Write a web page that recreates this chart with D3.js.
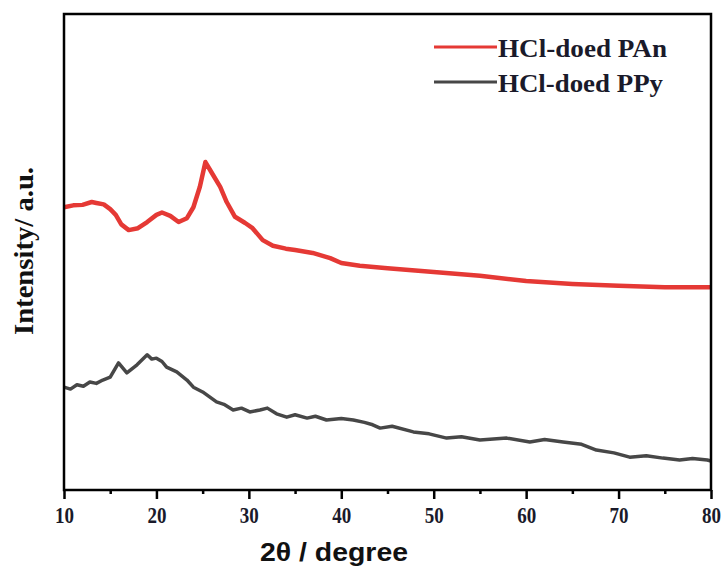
<!DOCTYPE html>
<html>
<head>
<meta charset="utf-8">
<script src="https://cdn.jsdelivr.net/npm/d3@7"></script>
<style>
  body { margin: 0; background: #fff; }
</style>
</head>
<body>
<div class="chart"></div>
<script>
// 2theta (degree) and intensity (a.u., 0-1000 frame scale)
var panAngles = [10, 11, 12, 13, 13.5, 14.3, 15, 15.6, 16.2, 17, 18, 19, 20, 20.6, 21.5, 22.4, 23.3, 24, 24.7, 25.3, 26, 26.9, 27.6, 28.5, 29.6, 30.4, 31.5, 32.6, 34, 35, 36.9, 38.8, 40, 42, 45, 48, 50, 55, 60, 65, 70, 75, 80];
var panValues = [594, 598, 599, 605, 603, 600, 590, 578, 558, 546, 550, 563, 578, 583, 576, 563, 571, 594, 637, 689, 666, 637, 605, 574, 561, 550, 525, 513, 507, 504, 498, 487, 477, 471, 466, 461, 458, 450, 439, 433, 429, 426, 426];

var ppyAngles = [10, 10.7, 11.4, 12.1, 12.8, 13.5, 14.2, 15, 15.9, 16.8, 17.9, 19, 19.5, 20, 20.6, 21.1, 22.2, 23.3, 24, 25, 26.5, 27.3, 28.3, 29.2, 30.1, 31.2, 32, 33, 34.1, 35, 36.3, 37.2, 38.4, 40, 41.3, 42.5, 43.4, 44.2, 45.5, 47.8, 49.5, 51.4, 53, 55, 57.9, 60.4, 62, 64, 66, 67.6, 69.5, 71.2, 73, 74.8, 76.6, 78, 79.6, 80];
var ppyValues = [216, 212, 221, 218, 227, 224, 231, 237, 267, 246, 263, 284, 275, 277, 270, 258, 248, 231, 216, 206, 185, 180, 168, 172, 164, 168, 172, 160, 153, 158, 151, 155, 147, 150, 147, 142, 137, 130, 134, 122, 118, 109, 112, 105, 109, 101, 106, 101, 96, 84, 78, 69, 72, 67, 63, 66, 63, 61];

var series = [
  {name: "HCl-doed PAn", color: "#e53935", width: 4.5, angles: panAngles, values: panValues},
  {name: "HCl-doed PPy", color: "#474747", width: 3.5, angles: ppyAngles, values: ppyValues}
];

var majorTicks = [10, 20, 30, 40, 50, 60, 70, 80];
var minorTicks = [15, 25, 35, 45, 55, 65, 75];

var width = 725, height = 580;
var margin = {top: 14, right: 14, bottom: 90, left: 64};

var svg = d3.select('.chart').append('svg').attr('width', width).attr('height', height);

var x = d3.scaleLinear().domain([10, 80]).range([margin.left, width - margin.right]);
var y = d3.scaleLinear().domain([0, 1000]).range([height - margin.bottom, margin.top]);

var line = d3.line()
    .x(function(d) { return x(d[0]); })
    .y(function(d) { return y(d[1]); });

series.forEach(function(s) {
  var pts = s.angles.map(function(a, i) { return [a, s.values[i]]; });
  svg.append("path")
      .datum(pts)
      .attr("fill", "none")
      .attr("stroke", s.color)
      .attr("stroke-width", s.width)
      .attr("stroke-linejoin", "round")
      .attr("d", line);
});

// bottom axis: major + minor ticks
var xAxis = svg.append("g")
    .attr("transform", "translate(0," + (height - margin.bottom) + ")")
    .call(d3.axisBottom(x).tickValues(majorTicks).tickSize(9).tickFormat(d3.format("d")));
xAxis.select(".domain").remove();
xAxis.selectAll("line").attr("stroke", "#000").attr("stroke-width", 2.5);
xAxis.selectAll("text")
    .attr("y", 33).attr("dy", 0)
    .attr("font-family", "Liberation Serif, Times New Roman, serif")
    .attr("font-weight", "bold")
    .attr("font-size", 23)
    .attr("fill", "#1a1a2a")
    .attr("textLength", 19)
    .attr("lengthAdjust", "spacingAndGlyphs");

var xMinor = svg.append("g")
    .attr("transform", "translate(0," + (height - margin.bottom) + ")")
    .call(d3.axisBottom(x).tickValues(minorTicks).tickSize(4).tickFormat(""));
xMinor.select(".domain").remove();
xMinor.selectAll("line").attr("stroke", "#000").attr("stroke-width", 2.5);

// frame
svg.append("rect")
    .attr("x", margin.left).attr("y", margin.top)
    .attr("width", width - margin.left - margin.right)
    .attr("height", height - margin.top - margin.bottom)
    .attr("fill", "none").attr("stroke", "#000").attr("stroke-width", 2.5);

// axis titles
svg.append("text")
    .attr("x", 334).attr("y", 561)
    .attr("text-anchor", "middle")
    .attr("font-family", "Liberation Sans, Arial, sans-serif")
    .attr("font-weight", "bold")
    .attr("font-size", 25)
    .attr("fill", "#111")
    .attr("textLength", 148)
    .attr("lengthAdjust", "spacingAndGlyphs")
    .text("2θ / degree");

svg.append("text")
    .attr("transform", "translate(33,251) rotate(-90)")
    .attr("text-anchor", "middle")
    .attr("font-family", "Liberation Serif, Times New Roman, serif")
    .attr("font-weight", "bold")
    .attr("font-size", 27)
    .attr("fill", "#111")
    .attr("textLength", 168)
    .attr("lengthAdjust", "spacingAndGlyphs")
    .text("Intensity/ a.u.");

// legend
var legend = svg.append("g");
series.forEach(function(s, i) {
  var ly = 47 + i * 35;
  legend.append("line")
      .attr("x1", 434).attr("x2", 497)
      .attr("y1", ly).attr("y2", ly)
      .attr("stroke", s.color).attr("stroke-width", 3);
  legend.append("text")
      .attr("x", 498).attr("y", ly + 10)
      .attr("font-family", "Liberation Serif, Times New Roman, serif")
      .attr("font-weight", "bold")
      .attr("font-size", 25)
      .attr("fill", "#1a1a2a")
      .attr("textLength", i === 0 ? 169 : 165)
      .attr("lengthAdjust", "spacingAndGlyphs")
      .text(s.name);
});
</script>
</body>
</html>
